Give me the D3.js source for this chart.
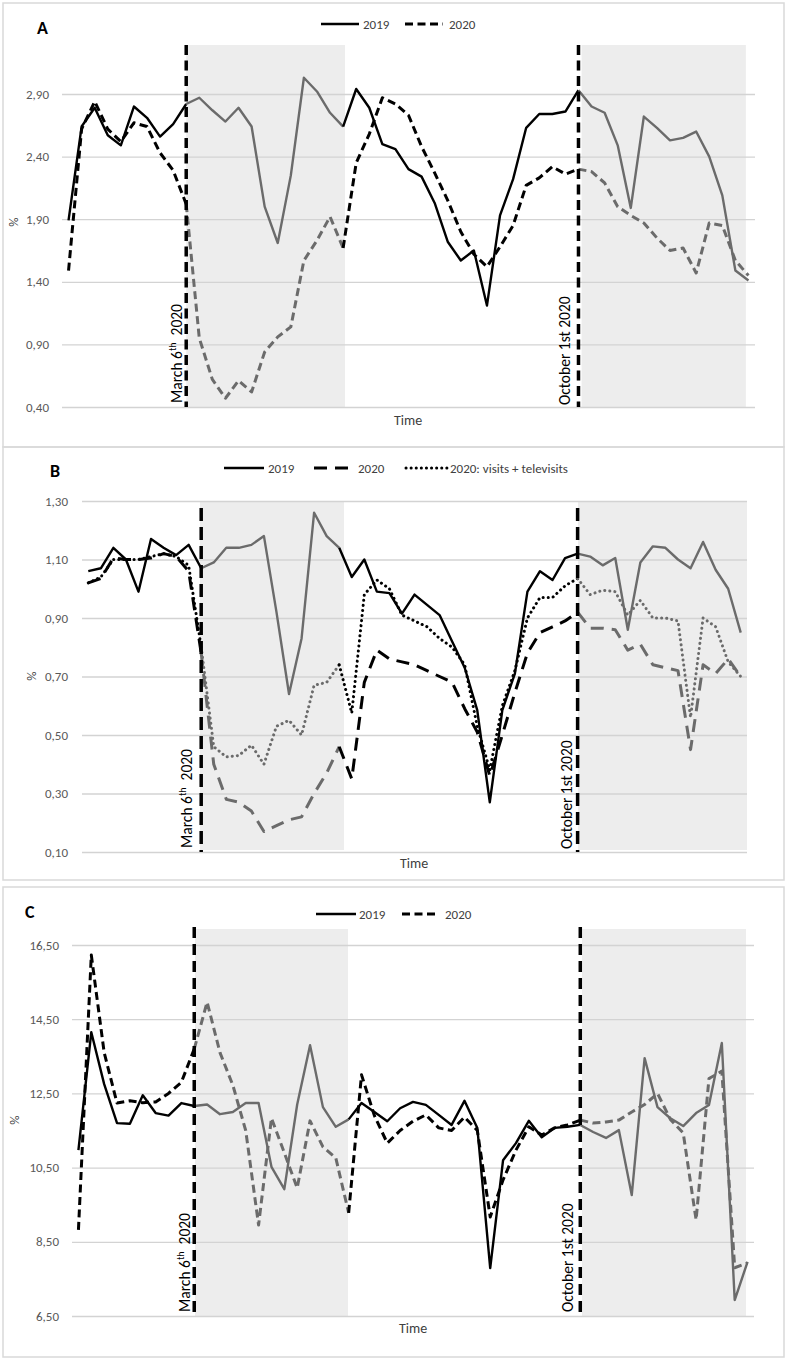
<!DOCTYPE html>
<html><head><meta charset="utf-8">
<script src="https://cdn.jsdelivr.net/npm/d3@7"></script>
<style>
html,body{margin:0;padding:0;background:#fff;}
svg{display:block;font-family:Carlito, Calibri, Lato, "Open Sans", sans-serif;}
</style></head><body>
<svg id="chart" width="790" height="1361"></svg>
<script>
// ---------- DATA ----------
const weeks = [1,2,3,4,5,6,7,8,9,10,11,12,13,14,15,16,17,18,19,20,21,22,23,24,25,26,27,28,29,30,31,32,33,34,35,36,37,38,39,40,41,42,43,44,45,46,47,48,49,50,51,52,53];

const panelA_2019 = [1.89,2.64,2.79,2.57,2.49,2.80,2.71,2.56,2.66,2.82,2.87,2.77,2.68,2.79,2.64,2.00,1.71,2.25,3.03,2.92,2.75,2.64,2.94,2.79,2.50,2.46,2.30,2.24,2.03,1.72,1.57,1.65,1.21,1.93,2.22,2.63,2.74,2.74,2.76,2.93,2.80,2.75,2.49,1.99,2.72,2.63,2.53,2.55,2.60,2.40,2.09,1.49,1.41];
const panelA_2020 = [1.49,2.62,2.84,2.62,2.52,2.67,2.64,2.43,2.29,2.02,0.95,0.62,0.47,0.61,0.52,0.84,0.96,1.04,1.57,1.73,1.92,1.67,2.35,2.58,2.87,2.82,2.73,2.48,2.27,2.05,1.80,1.62,1.52,1.68,1.85,2.17,2.23,2.32,2.26,2.30,2.28,2.19,2.00,1.93,1.87,1.75,1.65,1.67,1.47,1.87,1.85,1.57,1.45];

const panelB_2019 = [1.06,1.07,1.14,1.10,0.99,1.17,1.14,1.115,1.15,1.07,1.09,1.14,1.14,1.15,1.18,0.92,0.64,0.83,1.26,1.18,1.14,1.04,1.10,0.99,0.985,0.915,0.98,0.945,0.91,0.82,0.73,0.585,0.27,0.585,0.71,0.99,1.06,1.03,1.105,1.12,1.11,1.08,1.105,0.86,1.09,1.145,1.14,1.10,1.07,1.16,1.065,1.00,0.85];
const panelB_2020 = [1.02,1.035,1.105,1.10,1.10,1.105,1.12,1.11,1.06,0.78,0.40,0.28,0.27,0.24,0.17,0.19,0.21,0.22,0.30,0.37,0.46,0.35,0.68,0.79,0.76,0.75,0.74,0.72,0.70,0.68,0.59,0.51,0.36,0.50,0.645,0.78,0.85,0.87,0.89,0.92,0.865,0.865,0.86,0.79,0.81,0.74,0.73,0.72,0.45,0.74,0.71,0.76,0.70];
const panelB_2020_tele = [1.02,1.04,1.10,1.10,1.10,1.11,1.12,1.11,1.08,0.80,0.46,0.425,0.43,0.465,0.40,0.53,0.55,0.50,0.67,0.68,0.74,0.575,0.98,1.03,1.00,0.91,0.89,0.87,0.83,0.80,0.74,0.53,0.38,0.60,0.72,0.90,0.97,0.97,1.01,1.035,0.98,0.995,0.99,0.91,0.96,0.90,0.90,0.89,0.56,0.90,0.87,0.75,0.70];

const panelC_2019 = [10.97,14.15,12.75,11.7,11.68,12.45,11.97,11.9,12.24,12.16,12.2,11.94,12.0,12.24,12.24,10.52,9.92,12.2,13.8,12.13,11.6,11.8,12.24,12.0,11.75,12.1,12.27,12.19,11.92,11.65,12.3,11.57,7.79,10.7,11.16,11.76,11.32,11.57,11.6,11.65,11.46,11.3,11.51,9.76,13.45,12.13,11.83,11.62,11.97,12.19,13.86,6.93,7.96];
const panelC_2020 = [8.82,16.23,13.6,12.24,12.3,12.25,12.27,12.5,12.8,13.7,14.96,13.6,12.72,11.5,8.95,11.83,10.9,9.95,11.76,11.06,10.76,9.28,13.0,11.9,11.16,11.5,11.75,11.92,11.57,11.5,11.86,11.5,9.17,10.17,10.97,11.6,11.38,11.57,11.65,11.78,11.7,11.73,11.78,12.0,12.2,12.5,11.8,11.43,9.09,12.9,13.1,7.8,7.93];

const ticksA = [0.40,0.90,1.40,1.90,2.40,2.90];
const ticksB = [0.10,0.30,0.50,0.70,0.90,1.10,1.30];
const ticksC = [6.50,8.50,10.50,12.50,14.50,16.50];

const markerWeeks = [10, 40];               // March 6th 2020, October 1st 2020
const legendLabels = ["2019","2020","2020: visits + televisits"];
const panelTitles = ["A","B","C"];

// ---------- DRAW ----------
const svg = d3.select("#chart");
const fmt = d3.formatLocale({decimal:",",thousands:".",grouping:[3],currency:["","€"]}).format(".2f");
const BLACK = "#000", GRAY = "#6b6b6b";

const panels = [
  { title:panelTitles[0], box:[3,3,784,447], x0:62, x1:755, yB:407, yT:94, ticks:ticksA, pad:13,
    shadeTop:45, shadeBottom:407, markerTop:45, markerDash:"10,5.5",
    shades:[[9.0,21.14],[39.24,51.8]], gray:[[9,21],[39,52]],
    titlePos:[37,34], legendY:24,
    legend:[{s:0,x1:321,x2:359,tx:363},{s:1,x1:405,x2:443,tx:449}],
    yTitle:[18,222], time:[408,425], mLabels:[[182,403],[570,405]],
    series:[{v:panelA_2019,dash:null,w:2.4},{v:panelA_2020,dash:"8,4.5",w:3}] },
  { title:panelTitles[1], box:[3,447,784,880], x0:82, x1:747, yB:852, yT:501, ticks:ticksB, pad:14,
    shadeTop:501, shadeBottom:850, markerTop:508, markerDash:"13,6",
    shades:[[8.9,20.38],[39.03,52.5]], gray:[[9,20],[39,52]],
    titlePos:[50,477], legendY:468,
    legend:[{s:0,x1:224,x2:264,tx:268},{s:1,x1:314,x2:352,tx:358},{s:2,x1:406,x2:447,tx:450}],
    yTitle:[36,676], time:[414,868], mLabels:[[192,848],[572,849]],
    series:[{v:panelB_2019,dash:null,w:2.4},{v:panelB_2020,dash:"13,8",w:3},{v:panelB_2020_tele,dash:"0.1,5",w:3,cap:"round"}] },
  { title:panelTitles[2], box:[3,887,784,1357], x0:72, x1:754, yB:1316, yT:945, ticks:ticksC, pad:13,
    shadeTop:929, shadeBottom:1316, markerTop:927, markerDash:"11,6",
    shades:[[9.06,20.95],[39.13,51.88]], gray:[[9,21],[39,52]],
    titlePos:[25,918], legendY:914,
    legend:[{s:0,x1:316,x2:356,tx:359},{s:1,x1:402,x2:437,tx:445}],
    yTitle:[19,1120], time:[413,1333], mLabels:[[190,1312],[573,1312]],
    series:[{v:panelC_2019,dash:null,w:2.4},{v:panelC_2020,dash:"8,4.5",w:3}] }
];

function runs(n, grayRanges){
  // split segments i->i+1 into consecutive runs of same colour
  const out=[]; let cur=null;
  for(let i=0;i<n-1;i++){
    const g = grayRanges.some(r=>i>=r[0] && i+1<=r[1]);
    if(!cur || cur.gray!==g){ cur={gray:g, idx:[i]}; out.push(cur); }
    cur.idx.push(i+1);
  }
  return out;
}

panels.forEach(p=>{
  const g = svg.append("g");
  g.append("rect").attr("x",p.box[0]).attr("y",p.box[1]).attr("width",p.box[2]-p.box[0]).attr("height",p.box[3]-p.box[1])
    .attr("fill","none").attr("stroke","#d9d9d9").attr("stroke-width",1.5);

  const x = d3.scalePoint().domain(weeks).range([p.x0,p.x1]).padding(0.5);
  const xf = d3.scaleLinear().domain([-0.5, weeks.length-0.5]).range([p.x0,p.x1]);
  const y = d3.scaleLinear().domain([p.ticks[0], p.ticks[p.ticks.length-1]]).range([p.yB,p.yT]);

  // shaded periods
  p.shades.forEach(s=>{
    g.append("rect").attr("x",xf(s[0])).attr("width",xf(s[1])-xf(s[0]))
      .attr("y",p.shadeTop).attr("height",p.shadeBottom-p.shadeTop).attr("fill","#ededed");
  });

  // grid + tick labels
  const ax = d3.axisLeft(y).tickValues(p.ticks).tickSize(-(p.x1-p.x0)).tickPadding(p.pad).tickFormat(fmt);
  const axG = g.append("g").attr("transform",`translate(${p.x0},0)`).call(ax)
    .attr("font-family",null).attr("font-size",null);
  axG.select(".domain").remove();
  axG.selectAll(".tick line").attr("stroke","#d3d3d3").attr("stroke-width",1.3);
  axG.selectAll(".tick text").attr("fill","#595959").style("font-size","13px");

  // series
  const line = d3.line().x(i=>x(weeks[i])).y(0);
  p.series.forEach(s=>{
    runs(s.v.length, p.gray).forEach(r=>{
      const l = d3.line().x(i=>x(weeks[i])).y(i=>y(s.v[i])).curve(d3.curveLinear);
      g.append("path").attr("d",l(r.idx)).attr("fill","none")
        .attr("stroke", r.gray?GRAY:BLACK).attr("stroke-width",s.w)
        .attr("stroke-dasharray",s.dash).attr("stroke-linecap",s.cap||"butt").attr("stroke-linejoin","round");
    });
  });

  // vertical marker lines
  markerWeeks.forEach((wk,k)=>{
    const xm = x(wk);
    g.append("line").attr("x1",xm).attr("x2",xm).attr("y1",p.markerTop).attr("y2",p.yB)
      .attr("stroke","#000").attr("stroke-width",3.5).attr("stroke-dasharray",p.markerDash);
  });
  // marker labels
  const ml0 = g.append("text").attr("transform",`translate(${p.mLabels[0][0]},${p.mLabels[0][1]}) rotate(-90)`)
    .attr("font-size","15.5px").attr("fill","#000");
  ml0.append("tspan").text("March 6");
  ml0.append("tspan").text("th").attr("font-size","10px").attr("dy",-6);
  ml0.append("tspan").text("\u00a0 2020").attr("dy",6);
  g.append("text").attr("transform",`translate(${p.mLabels[1][0]},${p.mLabels[1][1]}) rotate(-90)`)
    .attr("font-size","15.5px").attr("fill","#000").text("October 1st 2020");

  // title
  g.append("text").attr("x",p.titlePos[0]).attr("y",p.titlePos[1]).text(p.title)
    .attr("font-size","18px").attr("font-weight","bold").attr("fill","#000");

  // legend
  p.legend.forEach(it=>{
    const s = p.series[it.s];
    g.append("line").attr("x1",it.x1).attr("x2",it.x2).attr("y1",p.legendY).attr("y2",p.legendY)
      .attr("stroke","#000").attr("stroke-width",s.w).attr("stroke-dasharray",s.dash)
      .attr("stroke-linecap",s.cap||"butt");
    g.append("text").attr("x",it.tx).attr("y",p.legendY).attr("dy","0.35em").text(legendLabels[it.s])
      .attr("font-size","13px").attr("fill","#404040");
  });

  // axis titles
  g.append("text").attr("transform",`translate(${p.yTitle[0]},${p.yTitle[1]}) rotate(-90)`)
    .attr("text-anchor","middle").attr("font-size","13px").attr("fill","#404040").text("%");
  g.append("text").attr("x",p.time[0]).attr("y",p.time[1]).attr("text-anchor","middle")
    .attr("font-size","14px").attr("fill","#404040").text("Time");
});
</script>
</body></html>
